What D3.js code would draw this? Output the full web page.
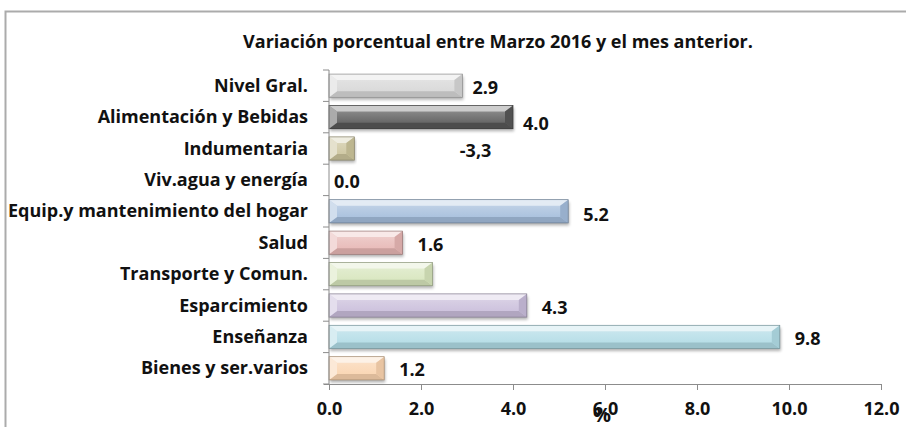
<!DOCTYPE html>
<html>
<head>
<meta charset="utf-8">
<script src="https://cdn.jsdelivr.net/npm/d3@7"></script>
<style>
  body { margin: 0; background: #fff; }
  text { font-family: "Open Sans", Lato, sans-serif; font-weight: bold; fill: #111; }
</style>
</head>
<body>
<div id="viz"></div>
<script>
const w = 906;
const h = 427;

// data
const categories = ['Nivel Gral.', 'Alimentación y Bebidas', 'Indumentaria', 'Viv.agua y energía',
  'Equip.y mantenimiento del hogar', 'Salud', 'Transporte y Comun.', 'Esparcimiento',
  'Enseñanza', 'Bienes y ser.varios'];
const values = [2.9, 4.0, 0.55, 0.0, 5.2, 1.6, 2.25, 4.3, 9.8, 1.2];
const valueLabels = ['2.9', '4.0', '-3,3', '0.0', '5.2', '1.6', '', '4.3', '9.8', '1.2'];
const barColors = ['#d6d6d6', '#575757', '#cbc39b', '#cccccc', '#a3bcdb', '#e6b5b3', '#d6e4bb',
  '#c8bcda', '#b0dbe5', '#f9d3ae'];
const xTicks = [0, 2, 4, 6, 8, 10, 12];

const margin = { left: 329, right: 25, top: 70, bottom: 43 };
const fs = '18px';

const svg = d3.select('#viz').append('svg')
    .attr('width', w)
    .attr('height', h)

// outer frame
svg.append('path')
    .attr('d', `M5.5,${h} V11.5 H${w}`)
    .attr('fill', 'none')
    .attr('stroke', '#ababab')
    .attr('stroke-width', 2)

svg.append('text')
    .attr('x', 498)
    .attr('y', 48)
    .attr('text-anchor', 'middle')
    .style('font-size', fs)
    .text('Variación porcentual entre Marzo 2016  y el mes anterior.')

const x = d3.scaleLinear()
    .domain([0, 12])
    .range([margin.left, w - margin.right])

const y = d3.scaleBand()
    .domain(categories)
    .range([margin.top, h - margin.bottom])
    .paddingInner(0.26)
    .paddingOuter(0.13)

const defs = svg.append('defs')
defs.append('filter')
    .attr('id', 'soft')
    .attr('x', '-5%').attr('y', '-30%').attr('width', '110%').attr('height', '160%')
  .append('feGaussianBlur')
    .attr('stdDeviation', 1.5)

const mixW = (c, t) => d3.interpolateRgb(c, '#ffffff')(t)

categories.forEach((c, i) => {
  const base = d3.color(barColors[i]);
  const g = defs.append('linearGradient')
      .attr('id', 'grad' + i)
      .attr('x1', 0).attr('x2', 0).attr('y1', 0).attr('y2', 1)
  const stops = [
    [0, mixW(base, 0.45)],
    [0.35, mixW(base, 0.25)],
    [1, base]
  ];
  stops.forEach(s => g.append('stop').attr('offset', s[0]).attr('stop-color', s[1]))
});

const bars = svg.append('g')
  .selectAll('g')
  .data(categories.map((c, i) => ({ c, i, v: values[i] })).filter(d => d.v > 0))
  .join('g')

// soft shadow
bars.append('rect')
    .attr('x', d => x(0) + 1)
    .attr('y', d => y(d.c) + 2.5)
    .attr('width', d => x(d.v) - x(0))
    .attr('height', y.bandwidth())
    .attr('fill', '#000')
    .attr('opacity', 0.3)
    .attr('filter', 'url(#soft)')

// face
bars.append('rect')
    .attr('x', x(0))
    .attr('y', d => y(d.c))
    .attr('width', d => x(d.v) - x(0))
    .attr('height', y.bandwidth())
    .attr('fill', d => `url(#grad${d.i})`)

// bevel sides
function bevel(d) {
  const x0 = x(0), x1 = x(d.v), y0 = y(d.c), y1 = y0 + y.bandwidth();
  const ey = Math.min(6, (y1 - y0) / 2), ex = Math.min(8, (x1 - x0) / 2);
  return {
    top: `M${x0},${y0}H${x1}L${x1 - ex},${y0 + ey}H${x0 + ex}Z`,
    bottom: `M${x0},${y1}H${x1}L${x1 - ex},${y1 - ey}H${x0 + ex}Z`,
    left: `M${x0},${y0}L${x0 + ex},${y0 + ey}V${y1 - ey}L${x0},${y1}Z`,
    right: `M${x1},${y0}L${x1 - ex},${y0 + ey}V${y1 - ey}L${x1},${y1}Z`
  };
}
const shades = {
  top: c => mixW(c, 0.7),
  bottom: c => d3.color(c).darker(0.35),
  left: c => mixW(c, 0.5),
  right: c => d3.color(c).darker(0.2)
};
Object.keys(shades).forEach(k => {
  bars.append('path')
      .attr('d', d => bevel(d)[k])
      .attr('fill', d => shades[k](barColors[d.i]))
});

// outline
bars.append('rect')
    .attr('x', x(0))
    .attr('y', d => y(d.c))
    .attr('width', d => x(d.v) - x(0))
    .attr('height', y.bandwidth())
    .attr('fill', 'none')
    .attr('stroke', d => d3.color(barColors[d.i]).darker(1.2))
    .attr('stroke-width', 0.7)

// value labels
svg.append('g')
  .selectAll('text')
  .data(categories)
  .join('text')
    .attr('x', (d, i) => {
      if (valueLabels[i] === '-3,3') return x(3.3) - 21;
      if (values[i] === 0) return x(0) + 5;
      return x(values[i]) + (i < 2 ? 10 : 15);
    })
    .attr('y', (d, i) => y(d) + y.bandwidth() / 2 + (i === 1 ? 13 : i === 4 ? 10 : 8))
    .style('font-size', fs)
    .text((d, i) => valueLabels[i])

// axes
const axisColor = '#8c8c8c';

const yAxis = svg.append('g')
    .attr('transform', `translate(${x(0)},0)`)
yAxis.append('line')
    .attr('y1', margin.top).attr('y2', h - margin.bottom)
    .attr('stroke', axisColor)
yAxis.selectAll('line.tick')
  .data(d3.range(categories.length + 1))
  .join('line')
    .attr('class', 'tick')
    .attr('x1', -6).attr('x2', 0)
    .attr('y1', i => margin.top + i * y.step())
    .attr('y2', i => margin.top + i * y.step())
    .attr('stroke', axisColor)
yAxis.selectAll('text')
  .data(categories)
  .join('text')
    .attr('x', -21)
    .attr('y', d => y(d) + y.bandwidth() / 2 + 6)
    .attr('text-anchor', 'end')
    .style('font-size', fs)
    .text(d => d)

const xAxis = svg.append('g')
    .attr('transform', `translate(0,${h - margin.bottom})`)
    .call(d3.axisBottom(x).tickValues(xTicks).tickSize(6).tickPadding(12).tickFormat(d3.format('.1f')))
xAxis.select('.domain')
    .attr('d', `M${x(0) - 5},0.5H${x(12)}`)
    .attr('stroke', axisColor)
xAxis.selectAll('.tick line').attr('stroke', axisColor)
xAxis.selectAll('.tick text')
    .style('font-size', fs)
    .style('font-family', '"Open Sans", sans-serif')
    .style('font-weight', 'bold')
    .attr('fill', '#111')

svg.append('text')
    .attr('x', 602)
    .attr('y', 422)
    .attr('text-anchor', 'middle')
    .style('font-size', '20px')
    .text('%')
</script>
</body>
</html>
